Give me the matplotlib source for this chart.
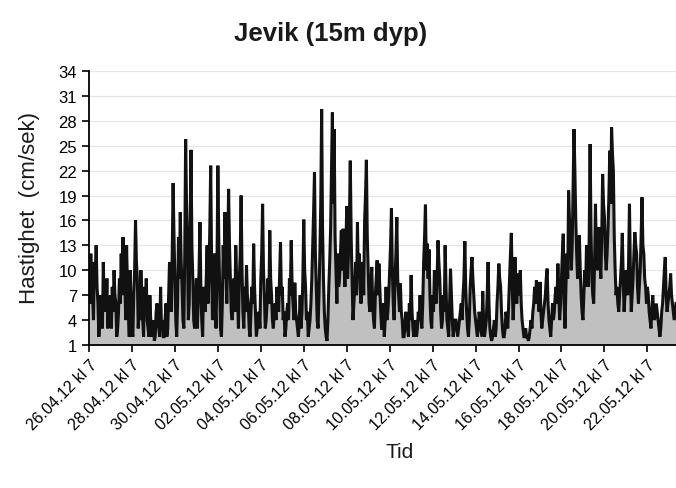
#!/usr/bin/env python3
"""Jevik (15m dyp) - current speed time series, redrawn with matplotlib."""

import matplotlib
matplotlib.use("Agg")
import matplotlib.pyplot as plt
import numpy as np

plt.rcParams["font.family"] = ["Liberation Sans", "DejaVu Sans"]

# Hourly samples, starting 26.04.12 kl 7
step_hours = 1

# Current speed (cm/sek)
speed = [
    9, 6, 12, 8, 7, 4, 11, 9, 13, 8, 6, 2, 4, 7, 5, 3, 11, 6, 8, 5,
    9, 3, 5, 6, 7, 3, 8, 5, 10, 7, 6, 2, 3, 5, 9, 6, 12, 7, 14, 8,
    9, 4, 13, 8, 5, 2, 10, 6, 3, 2, 7, 10, 16, 11, 9, 3, 5, 4, 10, 6,
    4, 2, 8, 5, 9, 4, 3, 2, 7, 4, 2, 3, 4, 1.5, 2, 5, 6, 4, 3, 2,
    8, 3, 4, 2, 2, 4, 6, 2, 3, 7, 11, 6, 5, 12, 20.5, 14, 9, 4, 2, 6,
    14, 9, 17, 11, 8, 4, 3, 12, 25.8, 18, 13, 4, 6, 15, 24.5, 13, 9, 4, 3, 6,
    9, 3, 6, 10, 15.8, 8, 4, 2, 8, 6, 5, 9, 13, 6, 9, 15, 22.6, 11, 4, 7,
    12, 6, 3, 10, 22.6, 14, 8, 3, 2, 6, 13, 9, 17, 10, 6, 12, 19.8, 13, 9, 5,
    4, 6, 9, 5, 13, 9, 7, 3, 9, 12, 19, 10, 5, 3, 8, 5, 10.6, 7, 6, 3,
    2, 5, 8, 6, 13.2, 8, 5, 2, 3, 4, 5, 3, 9, 12, 18, 10, 7, 3, 4, 6,
    9, 6, 14.8, 9, 7, 4, 3, 5, 6, 4, 8, 6, 5, 9, 13.4, 7, 8, 4, 5, 2,
    3, 5, 6, 4, 9, 7, 13.6, 8, 6, 4, 8.5, 5, 4, 3, 2, 4, 7, 3, 5, 9,
    16.1, 10, 8, 4, 5, 2, 3, 4, 6, 9, 13, 17, 21.8, 12, 8, 4, 3, 7, 12, 18,
    29.4, 15, 9, 5, 3, 2, 1.5, 4, 8, 11, 15, 22, 29, 18, 27, 14, 10, 6, 12, 8,
    9, 12, 14.8, 10, 15, 11, 8, 12, 17.7, 9, 12, 16, 23.2, 14, 9, 4, 6, 8, 11, 7,
    15.8, 9, 12, 8, 6, 9, 11, 7, 16, 19, 23.3, 14, 10, 6, 5, 8, 10.4, 6, 4, 3,
    7, 9, 11.2, 7, 10.8, 8, 5, 3, 3, 6, 2, 4, 8, 4, 5, 7, 10, 13, 17.5, 10,
    6, 4, 9, 12, 16.4, 9, 7, 5, 8.4, 5, 4, 2, 2, 3, 5, 3, 3, 2, 6, 4,
    9.4, 5, 3, 2, 4, 3, 2, 3, 5, 4, 7, 4, 3, 6, 11, 14, 17.9, 10, 13.2, 9,
    12.5, 7, 4, 3, 7, 5, 10, 8, 6, 9, 13.6, 11, 9, 5, 3, 4, 7, 5, 13, 8,
    4, 3, 2, 6, 10.2, 7, 4, 2, 3, 4, 4, 3, 2, 3, 4, 5, 6, 4, 7, 9,
    13.5, 8, 5, 3, 2, 4, 8, 10, 11.6, 9, 7, 5, 4, 3, 2, 3, 5, 4, 3, 2,
    7.5, 4, 2, 3, 4, 7, 11, 6, 3, 2, 1.5, 2, 3, 4, 2, 3, 6, 8, 10.8, 9,
    8, 5, 3, 2, 2, 3, 5, 4, 3, 6, 9, 12, 14.5, 8, 4, 7, 11.6, 8, 6, 8,
    9.6, 7, 10, 6, 4, 3, 2, 2, 3, 2, 2, 1.5, 2, 3, 4, 3, 5, 6, 8, 6,
    8.8, 6, 7, 5, 8.6, 5, 3, 4, 5, 6, 7, 9, 10.2, 6, 4, 3, 2, 4, 6, 4,
    5, 7, 8, 6, 10.8, 7, 4, 6, 9, 12, 14.4, 6, 3, 8, 12, 9, 19.6, 16, 14, 10,
    13, 20, 27, 22, 16, 12, 9, 11, 14.2, 10, 7, 5, 4, 7, 10, 8, 13, 10, 8, 14,
    25.2, 15, 9, 7, 6, 11, 18, 12, 10, 13, 15.2, 11, 9, 14, 21.6, 18, 16.4, 12, 10, 12,
    15, 19, 24.4, 18, 27.2, 24, 22, 14, 10, 7, 8, 6, 5, 7, 9, 11, 14.5, 9, 5, 7,
    10, 8, 7, 11, 18, 10, 5, 7, 9, 12, 14.6, 13, 12, 8, 6, 8, 10, 14, 18.8, 13,
    12, 9, 8, 6, 8, 7, 5, 4, 3, 5, 7, 5, 4, 5, 6, 5, 4, 3, 2, 3,
    5, 6, 8, 10, 11.6, 7, 5, 6, 7, 8, 9.6, 7, 6, 5, 4, 5, 6,
]

tick_labels = [
    "26.04.12 kl 7", "28.04.12 kl 7", "30.04.12 kl 7", "02.05.12 kl 7",
    "04.05.12 kl 7", "06.05.12 kl 7", "08.05.12 kl 7", "10.05.12 kl 7",
    "12.05.12 kl 7", "14.05.12 kl 7", "16.05.12 kl 7", "18.05.12 kl 7",
    "20.05.12 kl 7", "22.05.12 kl 7",
]
y_ticks = [1, 4, 7, 10, 13, 16, 19, 22, 25, 28, 31, 34]

hours = np.arange(len(speed)) * step_hours

fig = plt.figure(figsize=(6.76, 4.89), dpi=100)
ax = fig.add_axes([89 / 676, 1 - 346 / 489, 1 - 89 / 676, (346 - 72) / 489])

ax.fill_between(hours, 1, speed, color="#c0c0c0", linewidth=0)
ax.plot(hours, speed, color="#111111", linewidth=2.2, solid_joinstyle="miter")

ax.set_xlim(0, hours[-1])
ax.set_ylim(1, 34)
ax.set_yticks(y_ticks)
ax.set_xticks(np.arange(len(tick_labels)) * 48)
ax.set_xticklabels(tick_labels, rotation=45, ha="right", rotation_mode="anchor",
                   fontsize=11.5)
ax.tick_params(axis="y", labelsize=12, length=5, width=1.2)
ax.tick_params(axis="x", length=5, width=1.2)

ax.grid(axis="y", color="#e6e6e6", linewidth=0.9)
ax.set_axisbelow(True)
for side in ("top", "right"):
    ax.spines[side].set_visible(False)
for side in ("left", "bottom"):
    ax.spines[side].set_linewidth(1.3)

fig.text(331 / 676, 1 - 34 / 489, "Jevik (15m dyp)", ha="center", va="center",
         fontsize=18.5, fontweight="bold", color="#1a1a1a")
fig.text(30 / 676, 1 - 208 / 489, "Hastighet  (cm/sek)", ha="center", va="center",
         rotation=90, fontsize=16, color="#1a1a1a")
fig.text(400 / 676, 1 - 453 / 489, "Tid", ha="center", va="center",
         fontsize=15, color="#1a1a1a")

fig.savefig("out.png", dpi=100)
